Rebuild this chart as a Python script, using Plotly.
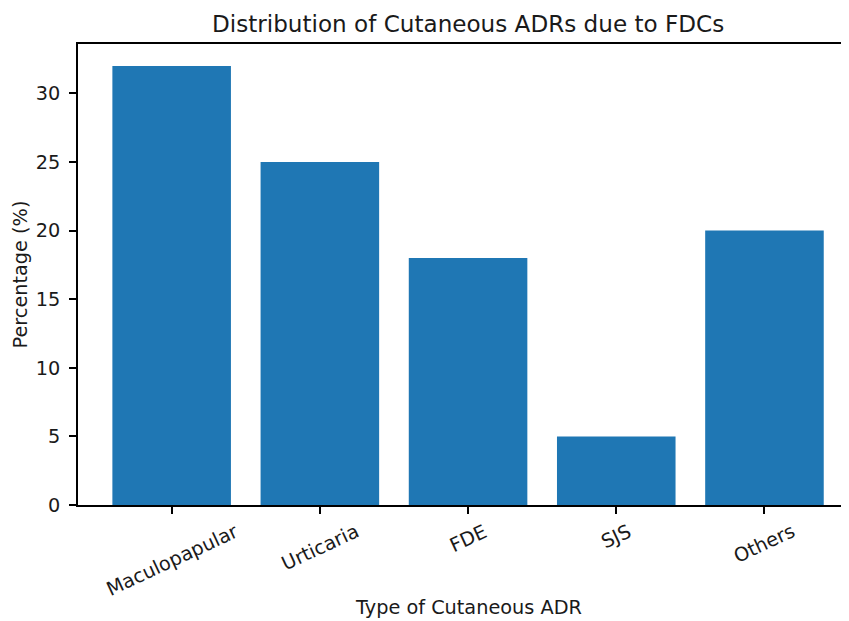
import plotly.graph_objects as go

categories = ["Maculopapular", "Urticaria", "FDE", "SJS", "Others"]
percentages = [32, 25, 18, 5, 20]
y_ticks = [0, 5, 10, 15, 20, 25, 30]

# page body margin offsets the figure by 8px; work in reference-pixel coords
OFF = 8
W, H = 849 - OFF, 621 - OFF
AX_L, AX_T, AX_B = 78, 44, 505          # reference pixel positions of axes
L = AX_L - OFF
T = AX_T - OFF
B = H - (AX_B - OFF)
PH = H - T - B
PW = W - L
FONT = "DejaVu Sans"
TICK_FS = 19.3
TITLE_FS = 23.1
UNIT = 148.2                            # px per category unit
X0 = -0.632


def px_x(xp):
    return (xp - OFF - L) / PW


def px_y(yp):
    return (H - B - (yp - OFF)) / PH


fig = go.Figure()
fig.add_trace(go.Bar(
    x=list(range(len(categories))), y=percentages, width=0.8,
    marker=dict(color="#1f77b4", line=dict(width=0)),
))

for i, c in enumerate(categories):
    fig.add_annotation(
        x=i, xref="x", y=px_y(517), yref="paper",
        text=c, textangle=-25, showarrow=False,
        xanchor="center", yanchor="top",
        font=dict(family=FONT, size=TICK_FS, color="#1a1a1a"),
    )

fig.add_annotation(
    x=px_x(468), xref="paper", y=px_y(24), yref="paper",
    text="Distribution of Cutaneous ADRs due to FDCs", showarrow=False,
    xanchor="center", yanchor="middle",
    font=dict(family=FONT, size=TITLE_FS, color="#1a1a1a"),
)
fig.add_annotation(
    x=px_x(468), xref="paper", y=px_y(607), yref="paper",
    text="Type of Cutaneous ADR", showarrow=False,
    xanchor="center", yanchor="middle",
    font=dict(family=FONT, size=TICK_FS, color="#1a1a1a"),
)
fig.add_annotation(
    x=px_x(20), xref="paper", y=px_y((AX_T + AX_B) / 2), yref="paper",
    text="Percentage (%)", showarrow=False, textangle=-90,
    xanchor="center", yanchor="middle",
    font=dict(family=FONT, size=TICK_FS, color="#1a1a1a"),
)

fig.update_layout(
    width=W, height=H,
    margin=dict(l=L, r=0, t=T, b=B, pad=0),
    plot_bgcolor="white", paper_bgcolor="white",
    showlegend=False,
    font=dict(family=FONT, size=TICK_FS, color="#1a1a1a"),
)
fig.update_xaxes(
    range=[X0, X0 + PW / UNIT],
    showgrid=False, zeroline=False,
    showline=True, linecolor="black", linewidth=1.5, mirror=True,
    ticks="outside", ticklen=7, tickwidth=1.5, tickcolor="black",
    tickvals=list(range(len(categories))), showticklabels=False,
)
fig.update_yaxes(
    range=[0, 33.6],
    showgrid=False, zeroline=False,
    showline=True, linecolor="black", linewidth=1.5, mirror=False,
    ticks="outside", ticklen=7, tickwidth=1.5, tickcolor="black",
    tickvals=y_ticks, ticktext=[str(v) for v in y_ticks],
    tickfont=dict(family=FONT, size=TICK_FS, color="#1a1a1a"),
    ticklabelstandoff=5,
)

fig.write_html("out.html")
